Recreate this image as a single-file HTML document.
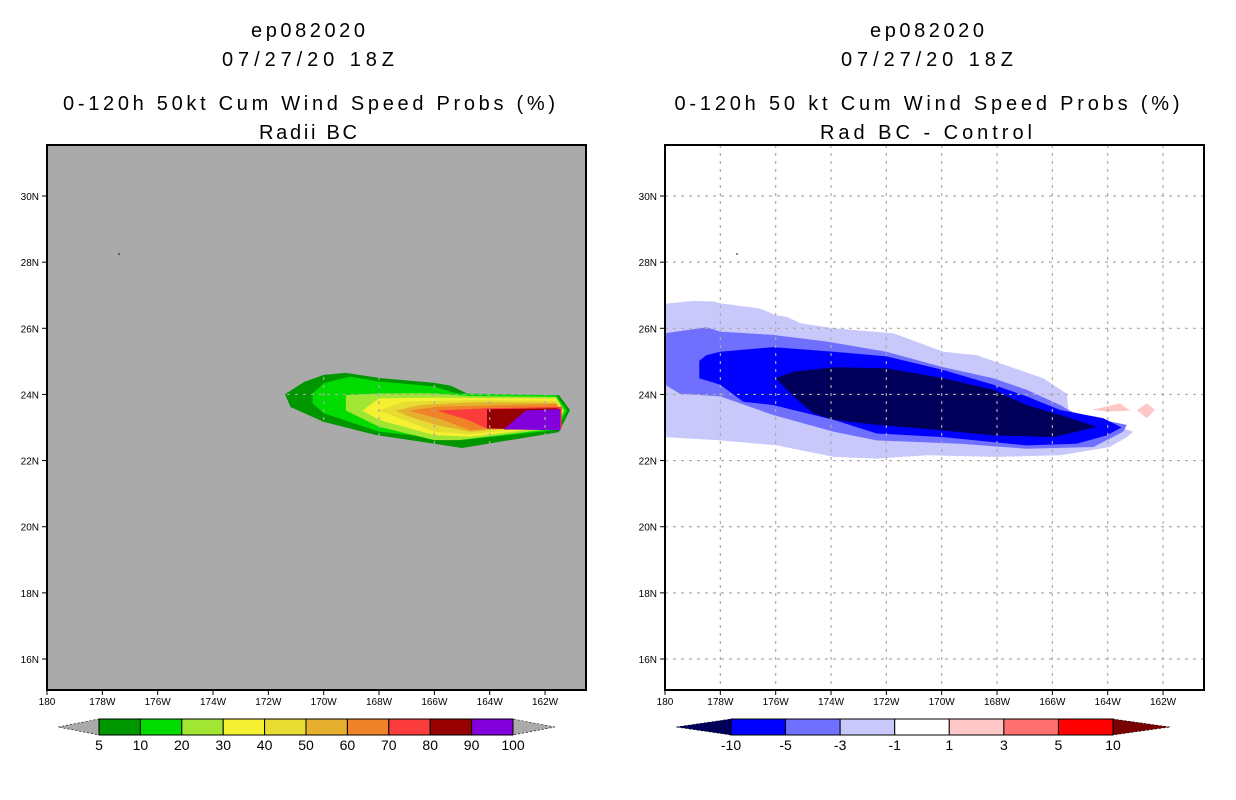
<!DOCTYPE html>
<html><head><meta charset="utf-8"><style>
html,body{margin:0;padding:0;background:#fff;}
svg{display:block;font-family:"Liberation Sans",sans-serif;}
</style></head><body>
<svg id="fig" width="1236" height="800" viewBox="0 0 1236 800" xmlns="http://www.w3.org/2000/svg">
<g id="titles" font-size="20" fill="#000" text-anchor="middle">
 <text x="308" y="37" textLength="114">ep082020</text>
 <text x="308" y="66" textLength="172">07/27/20 18Z</text>
 <text x="309" y="110" textLength="492">0-120h 50kt Cum Wind Speed Probs (%)</text>
 <text x="308" y="139" textLength="98">Radii BC</text>
 <text x="927" y="37" textLength="114">ep082020</text>
 <text x="927" y="66" textLength="172">07/27/20 18Z</text>
 <text x="927" y="110" textLength="505">0-120h 50 kt Cum Wind Speed Probs (%)</text>
 <text x="926" y="139" textLength="212">Rad BC - Control</text>
</g>
<g id="left"></g>
<g id="right"></g>
<g id="cbars"></g>
</svg>
<script>
const NS="http://www.w3.org/2000/svg";
// axes
const lonTicks=[180,178,176,174,172,170,168,166,164,162];
const lonTickLabels=["180","178W","176W","174W","172W","170W","168W","166W","164W","162W"];
const latTicks=[16,18,20,22,24,26,28,30];
const latTickLabels=["16N","18N","20N","22N","24N","26N","28N","30N"];
// left: probability levels
const leftLevels=[5,10,20,30,40,50,60,70,80,90];
const leftColors=["#009600","#00dc00","#a0e632","#f5f032","#e6dc32","#e6af2d","#f08228","#fa3c3c","#960000","#8200dc"];
const leftLon=[
 [171.4,170.7,170.0,169.2,168.0,166.0,165.4,164.7,161.5,161.1,161.5,165.0,165.7,168.1,170.0,171.2],
 [170.4,170.0,169.05,168.0,166.0,165.2,161.6,161.2,161.6,165.1,168.0,170.0,170.4],
 [169.2,168.0,166.0,164.7,161.6,161.3,161.6,165.1,166.0,168.0,169.2],
 [168.6,168.0,166.0,161.6,161.35,161.6,164.7,166.0,168.0],
 [168.0,167.1,164.7,161.6,161.4,161.6,164.7,166.0,167.1],
 [167.4,166.5,164.7,161.6,161.45,161.6,164.7,165.9,166.9],
 [166.9,165.9,161.6,161.45,161.6,164.7,165.7],
 [165.9,164.1,161.4,161.4,164.1,164.8],
 [164.1,161.6,161.45,161.45,164.1],
 [162.7,161.45,161.45,163.5]
];
const leftLat=[
 [24.01,24.38,24.59,24.65,24.5,24.35,24.26,23.98,23.98,23.53,22.86,22.38,22.47,22.77,23.17,23.62],
 [24.03,24.34,24.54,24.39,24.24,24.03,23.98,23.51,22.92,22.62,22.87,23.43,23.73],
 [23.98,24.03,24.03,23.95,23.93,23.51,22.97,22.62,22.62,23.02,23.51],
 [23.51,23.88,23.9,23.88,23.51,23.02,22.72,22.77,23.23],
 [23.51,23.78,23.83,23.81,23.51,23.07,22.80,22.87,23.23],
 [23.51,23.68,23.76,23.75,23.51,23.10,22.87,23.07,23.33],
 [23.51,23.63,23.71,23.51,23.12,22.92,23.23],
 [23.51,23.58,23.63,22.97,22.97,23.23],
 [23.55,23.58,23.55,22.92,22.97],
 [23.51,23.55,22.92,22.94]
];
// right: difference levels
const rightLevels=[-1,-3,-5,-10];
const rightColors=["#c8c8fa","#7070ff","#0000ff","#00005a"];
const rightLon=[
 [180,178.98,178.25,178.0,176.57,176.0,175.6,175.1,173.9,171.75,169.94,168.74,167.53,166.33,165.48,165.42,164.52,163.08,163.31,163.92,165.72,168.13,170.54,172.35,173.9,175.96,178.0,180],
 [180,178.5,178.0,176.1,174.16,172.0,169.94,168.13,166.93,165.72,165.12,163.31,163.44,164.52,166.93,169.34,172.35,173.9,176.1,178.0,179.46,180],
 [178.76,178.5,178.0,176.1,173.9,172.0,169.94,168.13,166.93,165.72,164.16,163.5,164.04,165.12,166.93,169.94,172.35,173.9,176.1,177.17,178.0,178.76],
 [176.0,175.36,173.9,172.0,169.94,168.13,166.93,165.72,164.4,165.12,165.97,168.13,169.94,172.35,173.9,174.64,175.36]
];
const rightLat=[
 [26.74,26.83,26.81,26.76,26.6,26.4,26.35,26.15,26.0,25.85,25.29,25.19,24.84,24.49,24.02,23.53,23.28,22.87,22.71,22.41,22.16,22.11,22.16,22.06,22.11,22.46,22.61,22.71],
 [25.85,26.03,25.9,25.8,25.6,25.29,24.82,24.49,24.14,23.68,23.38,23.08,22.87,22.41,22.36,22.51,22.61,22.87,23.38,23.94,24.02,24.29],
 [25.02,25.19,25.29,25.43,25.29,25.15,24.74,24.29,23.94,23.53,23.28,23.0,22.76,22.51,22.46,22.71,22.82,23.23,23.68,23.78,24.29,24.49],
 [24.49,24.69,24.82,24.79,24.49,24.14,23.68,23.38,23.02,22.87,22.71,22.76,22.91,23.08,23.23,23.43,23.94]
];
const pinkLon=[[164.58,163.56,163.19,163.92],[162.95,162.59,162.29,162.59]];
const pinkLat=[[23.53,23.73,23.51,23.48],[23.53,23.73,23.53,23.28]];
// colorbars
const leftCbarLabels=["5","10","20","30","40","50","60","70","80","90","100"];
const rightCbarLabels=["-10","-5","-3","-1","1","3","5","10"];
const rightCbarColors=["#0000ff","#7070ff","#c8c8fa","#ffffff","#ffc8c8","#ff7070","#ff0000"];

const Y0=145,Y1=690;
function xs(x0){return lon=>x0+(180-lon)*27.67;}
function ys(lat){return 659-(lat-16)*33.07;}
function el(tag,attrs,parent){const e=document.createElementNS(NS,tag);for(const k in attrs)e.setAttribute(k,attrs[k]);parent.appendChild(e);return e;}

function drawMap(g,x0,bg,polysLon,polysLat,colors,namePrefix){
 const X=xs(x0),x1=x0+539;
 const clipId="clip"+x0;
 const cp=el("clipPath",{id:clipId},g);el("rect",{x:x0,y:Y0,width:539,height:Y1-Y0},cp);
 const bgR=el("rect",{x:x0,y:Y0,width:539,height:Y1-Y0,fill:bg},g);
 
 
 const cg=el("g",{"clip-path":"url(#"+clipId+")"},g);
 polysLon.forEach((lons,i)=>{
  const pts=lons.map((lo,j)=>X(lo).toFixed(1)+","+ys(polysLat[i][j]).toFixed(1)).join(" ");
  const p=el("polygon",{points:pts,fill:colors[i]},cg);
  
  
 });
 return {X,x1,cg};
}
function drawAxes(g,x0,X,x1,gridColor){
 lonTicks.forEach((lo,i)=>{
  const x=X(lo);
  if(i>0){const l=el("line",{x1:x,y1:Y0,x2:x,y2:Y1,stroke:gridColor,"stroke-width":1.2,"stroke-dasharray":"3,5"},g);
   
   }
  el("line",{x1:x,y1:Y1,x2:x,y2:Y1+5,stroke:"#000"},g);
  const t=el("text",{x:x,y:Y1+15,"font-size":"10","text-anchor":"middle"},g);t.textContent=lonTickLabels[i];
  
  
 });
 latTicks.forEach((la,i)=>{
  const y=ys(la);
  const l=el("line",{x1:x0,y1:y,x2:x1,y2:y,stroke:gridColor,"stroke-width":1.2,"stroke-dasharray":"3,5"},g);
  
  
  el("line",{x1:x0-5,y1:y,x2:x0,y2:y,stroke:"#000"},g);
  const t=el("text",{x:x0-8,y:y+4,"font-size":"10","text-anchor":"end"},g);t.textContent=latTickLabels[i];
  
  
 });
 const f=el("rect",{x:x0,y:Y0,width:x1-x0,height:Y1-Y0,fill:"none",stroke:"#000","stroke-width":2},g);
 
 
}
const L=document.getElementById("left"),R=document.getElementById("right");
const a=drawMap(L,47,"#aaaaaa",leftLon,leftLat,leftColors,"left");
drawAxes(a.cg,47,a.X,a.x1,"#aaaaaa");
drawAxes(L,47,a.X,a.x1,"none");
el("circle",{cx:119,cy:254,r:0.8,fill:"#000"},L);
const b=drawMap(R,665,"#ffffff",rightLon,rightLat,rightColors,"right");
pinkLon.forEach((lons,i)=>{
 const pts=lons.map((lo,j)=>b.X(lo).toFixed(1)+","+ys(pinkLat[i][j]).toFixed(1)).join(" ");
 const p=el("polygon",{points:pts,fill:"#ffc8c8"},b.cg);
 
 
});
drawAxes(b.cg,665,b.X,b.x1,"#aaaaaa");
drawAxes(R,665,b.X,b.x1,"none");
el("circle",{cx:737,cy:254,r:0.8,fill:"#000"},R);

// colorbars
const C=document.getElementById("cbars");
function cbar(x0,x1,tipL,tipR,colors,labels,lc,rc,name){
 const n=colors.length,w=(x1-x0)/n,yt=719,yb=735,ym=727;
 el("polygon",{points:`${tipL},${ym} ${x0},${yt} ${x0},${yb}`,fill:lc,stroke:"#000","stroke-width":0.6,"stroke-dasharray":"2,2"},C);
 el("polygon",{points:`${tipR},${ym} ${x1},${yt} ${x1},${yb}`,fill:rc,stroke:"#000","stroke-width":0.6,"stroke-dasharray":"2,2"},C);
 colors.forEach((c,i)=>{
  const r=el("rect",{x:x0+i*w,y:yt,width:w,height:yb-yt,fill:c,stroke:"#000","stroke-width":1},C);
  
  
 });
 labels.forEach((s,i)=>{
  const t=el("text",{x:x0+i*w,y:750,"font-size":"14","text-anchor":"middle"},C);t.textContent=s;
  
  
 });
}
cbar(99,513,58,555,leftColors,leftCbarLabels,"#aaaaaa","#aaaaaa","left-colorbar");
cbar(731,1113,676,1170,rightCbarColors,rightCbarLabels,"#00005a","#780000","right-colorbar");
</script>
</body></html>
